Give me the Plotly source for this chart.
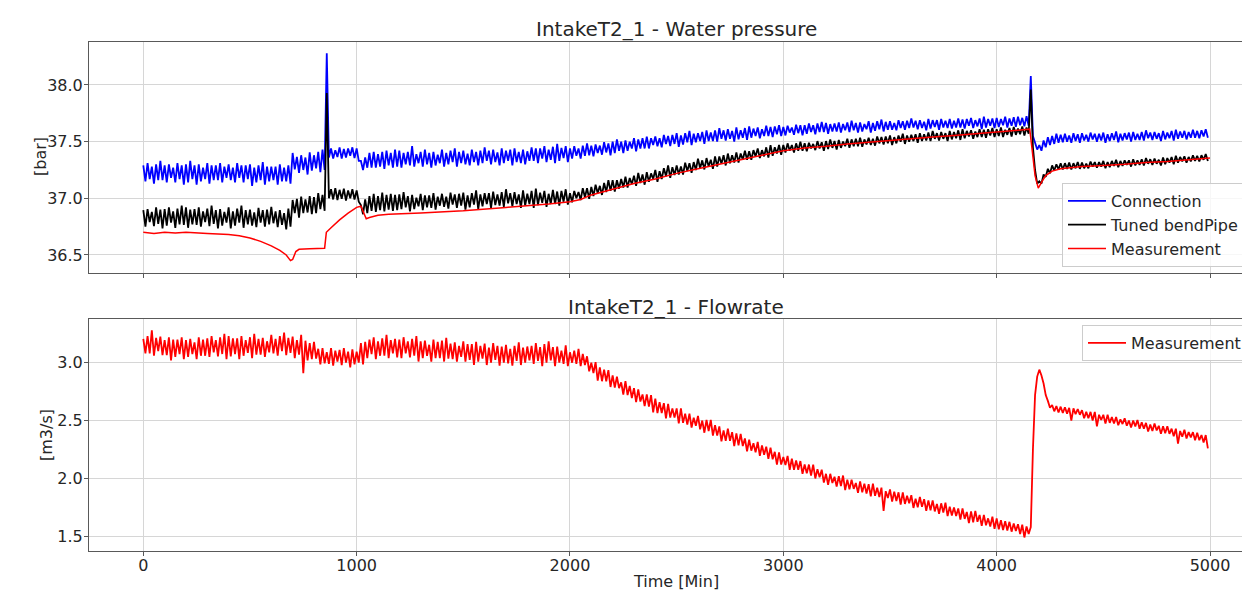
import plotly.graph_objects as go

# ---------------- data ----------------
# Noisy signals are read as the upper edge (peaks, at t = 0, 20, 40 ...) and
# lower edge (troughs, at t = 10, 30, 50 ...) of the dense band in the picture.
time_peaks = list(range(0, 5000, 20))
time_troughs = list(range(10, 5000, 20))

connection_peaks = [
    37.29, 37.31, 37.28, 37.30, 37.33, 37.29, 37.30, 37.27, 37.31, 37.29,
    37.30, 37.33, 37.29, 37.30, 37.27, 37.31, 37.29, 37.29, 37.31, 37.28,
    37.30, 37.27, 37.31, 37.29, 37.29, 37.30, 37.27, 37.29, 37.32, 37.28,
    37.28, 37.28, 37.30, 37.27, 37.29, 37.40, 37.365, 37.38, 37.36, 37.405,
    37.38, 37.41, 37.43, 38.28, 37.44, 37.425, 37.45, 37.435, 37.44, 37.45,
    37.44, 37.33, 37.36, 37.40, 37.41, 37.39, 37.41, 37.42, 37.40, 37.43,
    37.42, 37.40, 37.41, 37.46, 37.39, 37.41, 37.43, 37.40, 37.41, 37.385,
    37.43, 37.40, 37.42, 37.44, 37.41, 37.42, 37.395, 37.43, 37.41, 37.42,
    37.45, 37.42, 37.43, 37.405, 37.44, 37.42, 37.43, 37.44, 37.41, 37.43,
    37.415, 37.45, 37.44, 37.44, 37.46, 37.43, 37.455, 37.48, 37.445, 37.46,
    37.44, 37.46, 37.44, 37.465, 37.485, 37.465, 37.475, 37.465, 37.495, 37.485,
    37.50, 37.52, 37.50, 37.51, 37.50, 37.53, 37.52, 37.53, 37.545, 37.53,
    37.545, 37.53, 37.56, 37.55, 37.56, 37.575, 37.555, 37.575, 37.595, 37.57,
    37.575, 37.585, 37.60, 37.58, 37.60, 37.62, 37.60, 37.61, 37.595, 37.625,
    37.60, 37.62, 37.635, 37.615, 37.625, 37.61, 37.64, 37.63, 37.635, 37.645,
    37.63, 37.64, 37.625, 37.65, 37.645, 37.645, 37.66, 37.645, 37.66, 37.675,
    37.665, 37.655, 37.66, 37.67, 37.655, 37.67, 37.685, 37.665, 37.67, 37.655,
    37.68, 37.665, 37.68, 37.695, 37.675, 37.68, 37.665, 37.69, 37.68, 37.685,
    37.705, 37.685, 37.69, 37.675, 37.70, 37.69, 37.69, 37.70, 37.685, 37.70,
    37.685, 37.705, 37.695, 37.70, 37.71, 37.69, 37.705, 37.72, 37.70, 37.705,
    37.71, 37.70, 37.72, 37.705, 37.715, 37.72, 37.71, 37.725, 38.08, 37.49,
    37.47, 37.51, 37.54, 37.55, 37.57, 37.56, 37.57, 37.555, 37.575, 37.565,
    37.575, 37.56, 37.58, 37.57, 37.57, 37.58, 37.565, 37.575, 37.59, 37.57,
    37.575, 37.58, 37.585, 37.57, 37.585, 37.60, 37.58, 37.585, 37.575, 37.595,
    37.58, 37.595, 37.605, 37.59, 37.595, 37.585, 37.605, 37.595, 37.60, 37.61,
]
connection_troughs = [
    37.15, 37.17, 37.13, 37.16, 37.16, 37.14, 37.18, 37.14, 37.17, 37.12,
    37.14, 37.17, 37.12, 37.15, 37.17, 37.13, 37.16, 37.16, 37.14, 37.18,
    37.16, 37.14, 37.18, 37.14, 37.17, 37.11, 37.14, 37.16, 37.12, 37.15,
    37.16, 37.12, 37.15, 37.15, 37.13, 37.255, 37.225, 37.25, 37.21, 37.245,
    37.265, 37.23, 37.25, 37.36, 37.35, 37.365, 37.35, 37.36, 37.375, 37.355,
    37.33, 37.25, 37.27, 37.27, 37.27, 37.28, 37.26, 37.29, 37.27, 37.28,
    37.27, 37.30, 37.29, 37.28, 37.31, 37.28, 37.30, 37.27, 37.29, 37.31,
    37.28, 37.30, 37.32, 37.28, 37.31, 37.30, 37.29, 37.32, 37.29, 37.31,
    37.33, 37.30, 37.32, 37.29, 37.31, 37.33, 37.29, 37.32, 37.31, 37.30,
    37.33, 37.33, 37.31, 37.35, 37.32, 37.34, 37.31, 37.33, 37.355, 37.32,
    37.35, 37.375, 37.35, 37.375, 37.38, 37.37, 37.40, 37.385, 37.405, 37.38,
    37.40, 37.42, 37.40, 37.42, 37.44, 37.415, 37.44, 37.44, 37.44, 37.47,
    37.46, 37.45, 37.48, 37.46, 37.48, 37.455, 37.475, 37.495, 37.47, 37.495,
    37.505, 37.48, 37.505, 37.505, 37.50, 37.525, 37.51, 37.525, 37.50, 37.52,
    37.535, 37.515, 37.535, 37.55, 37.53, 37.55, 37.55, 37.54, 37.565, 37.55,
    37.555, 37.58, 37.56, 37.575, 37.555, 37.57, 37.585, 37.565, 37.585, 37.585,
    37.57, 37.59, 37.59, 37.58, 37.60, 37.585, 37.60, 37.58, 37.59, 37.61,
    37.58, 37.595, 37.61, 37.59, 37.605, 37.605, 37.60, 37.62, 37.605, 37.62,
    37.625, 37.61, 37.62, 37.60, 37.615, 37.63, 37.605, 37.625, 37.62, 37.615,
    37.625, 37.625, 37.615, 37.64, 37.62, 37.635, 37.61, 37.625, 37.64, 37.62,
    37.63, 37.645, 37.625, 37.64, 37.63, 37.645, 37.635, 37.64, 37.55, 37.43,
    37.42, 37.45, 37.47, 37.48, 37.49, 37.495, 37.50, 37.49, 37.505, 37.49,
    37.51, 37.50, 37.52, 37.50, 37.51, 37.49, 37.505, 37.515, 37.495, 37.51,
    37.52, 37.50, 37.515, 37.515, 37.51, 37.53, 37.515, 37.525, 37.505, 37.52,
    37.53, 37.51, 37.525, 37.535, 37.52, 37.535, 37.535, 37.53, 37.545, 37.535,
]

tuned_bendpipe_peaks = [
    36.895, 36.905, 36.88, 36.92, 36.90, 36.905, 36.92, 36.885, 36.91, 36.935,
    36.92, 36.90, 36.905, 36.92, 36.885, 36.91, 36.935, 36.895, 36.905, 36.88,
    36.92, 36.885, 36.91, 36.935, 36.895, 36.90, 36.875, 36.915, 36.895, 36.90,
    36.925, 36.885, 36.895, 36.87, 36.91, 36.985, 36.995, 37.015, 36.99, 37.02,
    37.01, 37.045, 37.03, 37.93, 37.08, 37.09, 37.075, 37.085, 37.07, 37.08,
    37.07, 36.94, 36.99, 37.02, 37.04, 37.02, 37.05, 37.03, 37.04, 37.03,
    37.035, 37.055, 37.02, 37.03, 37.005, 37.04, 37.025, 37.025, 37.045, 37.015,
    37.04, 37.015, 37.05, 37.035, 37.04, 37.05, 37.025, 37.045, 37.07, 37.035,
    37.045, 37.045, 37.06, 37.035, 37.055, 37.08, 37.045, 37.055, 37.035, 37.07,
    37.04, 37.065, 37.085, 37.05, 37.065, 37.04, 37.075, 37.06, 37.065, 37.08,
    37.045, 37.065, 37.055, 37.09, 37.09, 37.10, 37.12, 37.11, 37.135, 37.16,
    37.16, 37.16, 37.17, 37.19, 37.18, 37.20, 37.225, 37.21, 37.23, 37.22,
    37.25, 37.24, 37.265, 37.29, 37.275, 37.29, 37.28, 37.315, 37.31, 37.32,
    37.35, 37.335, 37.355, 37.34, 37.37, 37.37, 37.38, 37.395, 37.38, 37.405,
    37.395, 37.42, 37.415, 37.425, 37.44, 37.425, 37.45, 37.47, 37.45, 37.47,
    37.47, 37.485, 37.47, 37.485, 37.50, 37.485, 37.49, 37.48, 37.505, 37.495,
    37.505, 37.52, 37.505, 37.515, 37.50, 37.525, 37.52, 37.525, 37.535, 37.52,
    37.535, 37.525, 37.545, 37.54, 37.545, 37.555, 37.54, 37.555, 37.57, 37.555,
    37.56, 37.565, 37.575, 37.565, 37.58, 37.595, 37.575, 37.585, 37.575, 37.595,
    37.585, 37.60, 37.61, 37.595, 37.60, 37.59, 37.61, 37.605, 37.61, 37.62,
    37.61, 37.625, 37.605, 37.62, 37.63, 37.615, 37.635, 37.625, 37.96, 37.25,
    37.15, 37.21, 37.26, 37.29, 37.30, 37.31, 37.31, 37.315, 37.31, 37.32,
    37.315, 37.305, 37.325, 37.32, 37.32, 37.33, 37.32, 37.33, 37.34, 37.33,
    37.335, 37.335, 37.345, 37.335, 37.345, 37.355, 37.345, 37.35, 37.34, 37.36,
    37.355, 37.365, 37.375, 37.365, 37.37, 37.365, 37.38, 37.375, 37.38, 37.39,
]
tuned_bendpipe_troughs = [
    36.75, 36.79, 36.755, 36.775, 36.735, 36.76, 36.785, 36.74, 36.77, 36.765,
    36.74, 36.77, 36.765, 36.75, 36.79, 36.755, 36.775, 36.735, 36.76, 36.785,
    36.735, 36.76, 36.785, 36.74, 36.77, 36.76, 36.745, 36.785, 36.75, 36.77,
    36.78, 36.745, 36.765, 36.725, 36.75, 36.87, 36.83, 36.87, 36.875, 36.86,
    36.87, 36.905, 36.89, 37.00, 36.99, 36.985, 36.995, 36.98, 37.00, 36.99,
    36.97, 36.86, 36.87, 36.89, 36.88, 36.895, 36.885, 36.90, 36.89, 36.895,
    36.905, 36.92, 36.885, 36.905, 36.93, 36.895, 36.92, 36.915, 36.90, 36.935,
    36.925, 36.91, 36.945, 36.915, 36.935, 36.90, 36.92, 36.945, 36.905, 36.93,
    36.95, 36.915, 36.94, 36.935, 36.925, 36.955, 36.93, 36.95, 36.915, 36.935,
    36.95, 36.915, 36.94, 36.96, 36.925, 36.95, 36.95, 36.935, 36.97, 36.945,
    36.965, 37.00, 36.985, 37.01, 36.995, 37.02, 37.045, 37.03, 37.055, 37.065,
    37.06, 37.085, 37.095, 37.095, 37.125, 37.11, 37.135, 37.12, 37.145, 37.17,
    37.145, 37.17, 37.195, 37.18, 37.205, 37.21, 37.21, 37.24, 37.225, 37.25,
    37.265, 37.255, 37.28, 37.26, 37.28, 37.305, 37.29, 37.31, 37.315, 37.315,
    37.34, 37.34, 37.34, 37.37, 37.355, 37.37, 37.36, 37.375, 37.395, 37.385,
    37.405, 37.42, 37.405, 37.42, 37.42, 37.415, 37.44, 37.425, 37.44, 37.42,
    37.435, 37.445, 37.43, 37.445, 37.46, 37.445, 37.46, 37.46, 37.455, 37.475,
    37.47, 37.465, 37.485, 37.475, 37.485, 37.47, 37.485, 37.50, 37.48, 37.50,
    37.505, 37.49, 37.505, 37.51, 37.505, 37.525, 37.51, 37.525, 37.505, 37.52,
    37.53, 37.515, 37.53, 37.545, 37.525, 37.54, 37.54, 37.535, 37.555, 37.54,
    37.55, 37.54, 37.56, 37.545, 37.56, 37.565, 37.555, 37.57, 37.45, 37.13,
    37.13, 37.19, 37.22, 37.245, 37.255, 37.255, 37.26, 37.255, 37.265, 37.26,
    37.265, 37.265, 37.28, 37.27, 37.28, 37.265, 37.275, 37.285, 37.275, 37.285,
    37.295, 37.28, 37.29, 37.295, 37.29, 37.305, 37.295, 37.305, 37.29, 37.30,
    37.315, 37.30, 37.315, 37.325, 37.315, 37.325, 37.33, 37.325, 37.34, 37.33,
]

pressure_meas_time = [
    0, 50, 100, 150, 200, 300, 400, 450, 500, 550, 600, 640, 670, 690, 700,
    715, 730, 780, 850, 858, 880, 920, 960, 1000, 1020, 1045, 1060, 1100,
    1150, 1300, 1500, 1700, 1900, 2000, 2050, 2100, 2200, 2300, 2400, 2500,
    2600, 2700, 2800, 2900, 3000, 3100, 3200, 3300, 3400, 3500, 3600, 3700,
    3800, 3900, 4000, 4100, 4155, 4165, 4180, 4195, 4210, 4230, 4260, 4300,
    4400, 4500, 4600, 4700, 4800, 4900, 5000,
]
pressure_meas = [
    36.70, 36.69, 36.70, 36.695, 36.70, 36.69, 36.68, 36.67, 36.65, 36.62,
    36.58, 36.54, 36.50, 36.45, 36.46, 36.53, 36.55, 36.555, 36.56, 36.70,
    36.74, 36.81, 36.87, 36.92, 36.93, 36.82, 36.83, 36.85, 36.86, 36.87,
    36.89, 36.92, 36.95, 36.97, 36.99, 37.03, 37.08, 37.13, 37.17, 37.22,
    37.26, 37.30, 37.34, 37.38, 37.42, 37.445, 37.46, 37.48, 37.495, 37.51,
    37.525, 37.54, 37.555, 37.57, 37.585, 37.60, 37.61, 37.45, 37.20, 37.09,
    37.14, 37.20, 37.24, 37.26, 37.28, 37.29, 37.30, 37.315, 37.325, 37.34,
    37.355,
]

flowrate_peaks = [
    3.205, 3.23, 3.28, 3.215, 3.225, 3.195, 3.22, 3.20, 3.20, 3.22,
    3.195, 3.205, 3.175, 3.22, 3.20, 3.21, 3.23, 3.195, 3.22, 3.25,
    3.23, 3.21, 3.21, 3.23, 3.195, 3.22, 3.25, 3.205, 3.215, 3.185,
    3.24, 3.205, 3.23, 3.26, 3.215, 3.225, 3.195, 3.24, 3.19, 3.17,
    3.18, 3.12, 3.125, 3.09, 3.125, 3.105, 3.11, 3.125, 3.095, 3.115,
    3.095, 3.17, 3.18, 3.20, 3.22, 3.185, 3.21, 3.24, 3.195, 3.205,
    3.20, 3.22, 3.185, 3.205, 3.23, 3.185, 3.19, 3.155, 3.20, 3.18,
    3.19, 3.215, 3.165, 3.175, 3.145, 3.185, 3.16, 3.16, 3.18, 3.145,
    3.165, 3.13, 3.17, 3.145, 3.14, 3.155, 3.12, 3.145, 3.175, 3.13,
    3.14, 3.145, 3.17, 3.135, 3.16, 3.185, 3.135, 3.14, 3.105, 3.15,
    3.09, 3.105, 3.12, 3.075, 3.055, 3.00, 3.005, 2.96, 2.94, 2.935,
    2.89, 2.88, 2.83, 2.84, 2.80, 2.78, 2.77, 2.725, 2.725, 2.72,
    2.69, 2.66, 2.65, 2.645, 2.605, 2.605, 2.605, 2.56, 2.56, 2.525,
    2.54, 2.50, 2.505, 2.505, 2.46, 2.45, 2.415, 2.43, 2.40, 2.39,
    2.385, 2.345, 2.335, 2.305, 2.315, 2.285, 2.275, 2.265, 2.23, 2.225,
    2.185, 2.195, 2.17, 2.155, 2.15, 2.12, 2.12, 2.12, 2.08, 2.075,
    2.04, 2.04, 2.015, 2.02, 2.025, 1.99, 1.99, 1.96, 1.975, 1.955,
    1.95, 1.955, 1.92, 1.92, 1.89, 1.905, 1.885, 1.88, 1.88, 1.85,
    1.855, 1.825, 1.84, 1.82, 1.81, 1.81, 1.78, 1.785, 1.79, 1.755,
    1.75, 1.74, 1.74, 1.71, 1.715, 1.72, 1.685, 1.685, 1.655, 1.67,
    1.655, 1.64, 1.63, 1.625, 1.61, 1.605, 1.60, 1.585, 1.58, 2.72,
    2.94, 2.82, 2.67, 2.635, 2.625, 2.62, 2.615, 2.61, 2.605, 2.60,
    2.59, 2.575, 2.575, 2.575, 2.55, 2.55, 2.55, 2.53, 2.53, 2.51,
    2.52, 2.50, 2.50, 2.505, 2.485, 2.48, 2.465, 2.475, 2.455, 2.45,
    2.45, 2.43, 2.43, 2.41, 2.42, 2.40, 2.40, 2.395, 2.375, 2.375,
]
flowrate_troughs = [
    3.08, 3.08, 3.06, 3.10, 3.065, 3.065, 3.02, 3.05, 3.075, 3.03,
    3.05, 3.075, 3.03, 3.06, 3.06, 3.05, 3.09, 3.055, 3.075, 3.03,
    3.055, 3.075, 3.03, 3.06, 3.085, 3.04, 3.07, 3.07, 3.05, 3.09,
    3.08, 3.06, 3.10, 3.065, 3.085, 3.04, 3.07, 2.91, 3.02, 3.03,
    3.035, 2.985, 2.995, 2.99, 2.975, 3.01, 2.98, 3.00, 2.96, 2.985,
    3.00, 2.985, 3.04, 3.075, 3.03, 3.06, 3.06, 3.04, 3.08, 3.045,
    3.04, 3.08, 3.045, 3.06, 3.01, 3.04, 3.06, 3.01, 3.04, 3.04,
    3.01, 3.035, 3.03, 3.01, 3.05, 3.01, 3.025, 2.98, 3.01, 3.035,
    2.98, 3.00, 3.025, 2.975, 3.00, 2.995, 2.975, 3.015, 2.98, 3.00,
    3.02, 2.99, 3.015, 2.97, 3.00, 3.02, 2.97, 3.00, 2.99, 2.97,
    3.00, 2.99, 2.97, 2.98, 2.925, 2.91, 2.845, 2.84, 2.84, 2.79,
    2.785, 2.78, 2.725, 2.72, 2.695, 2.66, 2.665, 2.625, 2.62, 2.57,
    2.565, 2.565, 2.52, 2.525, 2.525, 2.475, 2.48, 2.465, 2.44, 2.455,
    2.425, 2.395, 2.41, 2.37, 2.37, 2.32, 2.325, 2.325, 2.28, 2.285,
    2.28, 2.235, 2.24, 2.225, 2.195, 2.205, 2.17, 2.165, 2.12, 2.12,
    2.115, 2.075, 2.075, 2.075, 2.04, 2.045, 2.025, 2.00, 2.01, 1.965,
    1.945, 1.96, 1.93, 1.935, 1.90, 1.905, 1.91, 1.875, 1.88, 1.87,
    1.845, 1.85, 1.84, 1.72, 1.83, 1.80, 1.805, 1.775, 1.78, 1.785,
    1.745, 1.75, 1.755, 1.72, 1.725, 1.715, 1.695, 1.705, 1.675, 1.68,
    1.675, 1.645, 1.65, 1.615, 1.62, 1.625, 1.59, 1.595, 1.585, 1.565,
    1.56, 1.555, 1.55, 1.54, 1.545, 1.52, 1.49, 1.52, 2.25, 2.88,
    2.89, 2.72, 2.61, 2.58, 2.57, 2.565, 2.56, 2.50, 2.555, 2.55,
    2.52, 2.52, 2.50, 2.45, 2.505, 2.475, 2.48, 2.475, 2.46, 2.47,
    2.455, 2.44, 2.45, 2.43, 2.43, 2.405, 2.41, 2.415, 2.385, 2.39,
    2.385, 2.365, 2.30, 2.36, 2.345, 2.355, 2.33, 2.33, 2.31, 2.26,
]

x_ticks = [0, 1000, 2000, 3000, 4000, 5000]
p_ticks = [36.5, 37.0, 37.5, 38.0]
q_ticks = [1.5, 2.0, 2.5, 3.0]


def interleave(a, b):
    out = []
    for u, v in zip(a, b):
        out.extend([u, v])
    return out


band_time = interleave(time_peaks, time_troughs)

# ---------------- figure ----------------
W, H = 1242, 593
FONT = "DejaVu Sans"
TXT = "#262626"
SPINE = "#595959"
GRID = "#d6d6d6"


def px(xp):
    return xp / W


def py(yp):
    return 1 - yp / H


def line_style(color, width):
    return dict(color=color, width=width, simplify=False)


fig = go.Figure()
fig.add_trace(go.Scatter(x=band_time, y=interleave(connection_peaks, connection_troughs),
                         mode="lines", name="Connection", line=line_style("#0000ff", 1.8),
                         xaxis="x", yaxis="y", legend="legend", legendgroup="g1"))
fig.add_trace(go.Scatter(x=band_time, y=interleave(tuned_bendpipe_peaks, tuned_bendpipe_troughs),
                         mode="lines", name="Tuned bendPipe", line=line_style("#000000", 1.8),
                         xaxis="x", yaxis="y", legend="legend", legendgroup="g2"))
fig.add_trace(go.Scatter(x=pressure_meas_time, y=pressure_meas, mode="lines", name="Measurement",
                         line=line_style("#ff0000", 1.5),
                         xaxis="x", yaxis="y", legend="legend", legendgroup="g3"))
fig.add_trace(go.Scatter(x=band_time, y=interleave(flowrate_peaks, flowrate_troughs),
                         mode="lines", name="Measurement", line=line_style("#ff0000", 1.8),
                         xaxis="x2", yaxis="y2", legend="legend2", legendgroup="g4"))

x_dom = [px(89), 1.0]
x_rng = [-254.5, 5150]

common_x = dict(domain=x_dom, range=x_rng, tickvals=x_ticks, showline=True, mirror=True,
                linecolor=SPINE, linewidth=1, ticks="outside", ticklen=4, tickcolor=SPINE,
                showgrid=True, gridcolor=GRID, gridwidth=1.2, zeroline=False,
                ticklabelstandoff=-4,
                tickfont=dict(family=FONT, size=16, color=TXT))
common_y = dict(showline=True, linecolor=SPINE, linewidth=1, ticks="outside", ticklen=4,
                tickcolor=SPINE, showgrid=True, gridcolor=GRID, gridwidth=1.2, zeroline=False,
                ticklabelstandoff=-2,
                tickfont=dict(family=FONT, size=16, color=TXT))

legend_common = dict(xanchor="left", yanchor="top", bgcolor="rgba(255,255,255,0.8)",
                     bordercolor="#cccccc", borderwidth=1, itemwidth=38,
                     font=dict(family=FONT, size=16, color=TXT), tracegroupgap=0)

fig.update_layout(
    width=W, height=H,
    margin=dict(l=0, r=0, t=0, b=0, autoexpand=False),
    paper_bgcolor="white", plot_bgcolor="white",
    font=dict(family=FONT, size=16, color=TXT),
    showlegend=True,
    xaxis=dict(anchor="y", showticklabels=False, **common_x),
    yaxis=dict(anchor="x", domain=[py(273), py(41.7)], range=[36.341, 38.382],
               tickvals=p_ticks, ticktext=[f"{v:.1f}" for v in p_ticks], **common_y),
    xaxis2=dict(anchor="y2", showticklabels=True, **common_x),
    yaxis2=dict(anchor="x2", domain=[py(551), py(319.3)], range=[1.373, 3.375],
                tickvals=q_ticks, ticktext=[f"{v:.1f}" for v in q_ticks], **common_y),
    legend=dict(x=px(1062), y=py(183), **legend_common),
    legend2=dict(x=px(1082), y=py(325), **legend_common),
    annotations=[
        dict(text="IntakeT2_1 - Water pressure", x=px(676), y=py(29), xref="paper", yref="paper",
             showarrow=False, xanchor="center", yanchor="middle",
             font=dict(family=FONT, size=20, color=TXT)),
        dict(text="IntakeT2_1 - Flowrate", x=px(676), y=py(307), xref="paper", yref="paper",
             showarrow=False, xanchor="center", yanchor="middle",
             font=dict(family=FONT, size=20, color=TXT)),
        dict(text="[bar]", x=px(40), y=py(157), xref="paper", yref="paper", textangle=-90,
             showarrow=False, xanchor="center", yanchor="middle",
             font=dict(family=FONT, size=16, color=TXT)),
        dict(text="[m3/s]", x=px(46), y=py(435), xref="paper", yref="paper", textangle=-90,
             showarrow=False, xanchor="center", yanchor="middle",
             font=dict(family=FONT, size=16, color=TXT)),
        dict(text="Time [Min]", x=px(676), y=py(581), xref="paper", yref="paper",
             showarrow=False, xanchor="center", yanchor="middle",
             font=dict(family=FONT, size=16, color=TXT)),
    ],
)

fig.write_html(
    "out.html",
    config={"displayModeBar": False},
    post_script="document.body.style.margin='0';document.body.style.overflow='hidden';",
)
